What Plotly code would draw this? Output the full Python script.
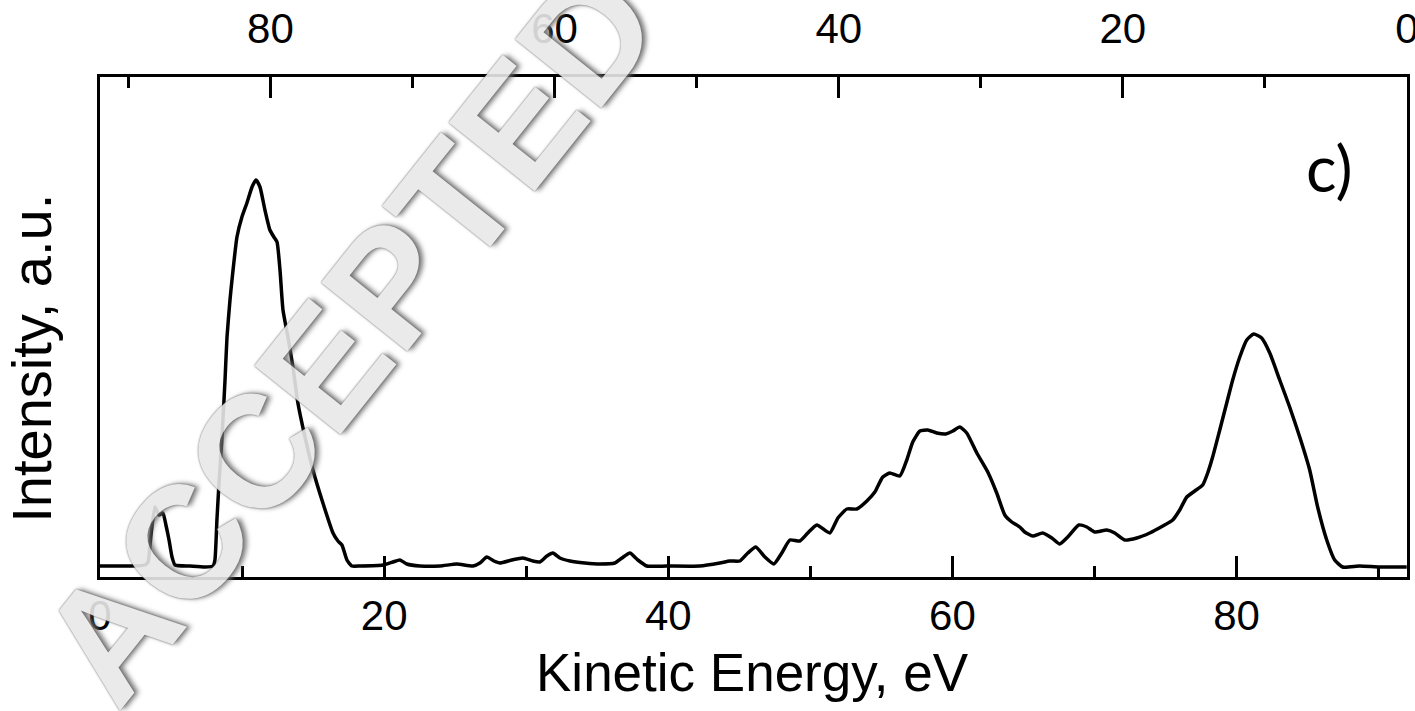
import plotly.graph_objects as go

# Kinetic energy (eV) and intensity (a.u.)
kinetic_energy = [
    0.00, 2.11, 3.17, 3.38, 3.59, 3.87, 4.15, 4.43, 4.64, 4.86, 5.07, 5.28, 6.33, 7.39, 7.95,
    8.09, 8.23, 8.37, 8.59, 8.80, 8.94, 9.15, 9.29, 9.64, 9.99, 10.34, 10.70, 10.98,
    11.26, 11.61, 11.96, 12.24, 12.46, 12.67, 12.88, 13.23, 13.58, 13.93, 14.43, 14.99,
    15.69, 16.40, 16.75, 17.03, 17.38, 17.73,
    18.30, 19.92, 20.62, 21.11, 21.60, 22.52, 23.93, 25.12, 26.25, 26.74, 27.23, 27.73,
    28.15, 28.99, 29.77, 30.47, 30.96, 31.46, 31.88, 32.37, 33.08, 34.13, 35.19, 36.24,
    36.74, 37.30, 37.86, 38.49, 39.90, 42.22, 43.63, 44.33, 45.04, 45.60, 46.16, 46.80,
    47.43, 47.99, 48.56, 49.26, 49.82, 50.46, 51.37, 51.94, 52.57, 53.27, 53.98, 54.54,
    55.10, 55.59, 56.30, 56.79, 57.21, 57.71, 58.27, 58.90, 59.54, 60.03, 60.52, 61.01,
    61.72, 62.49, 63.12, 63.69, 64.18, 64.74, 65.09, 65.66, 66.36, 67.00, 67.56, 68.12,
    68.90, 69.46, 70.02, 70.87, 71.43, 72.13, 72.98, 73.89, 74.81, 75.51, 76.00, 76.50,
    77.06, 77.62, 77.97, 78.32, 78.82, 79.31, 79.73, 80.23, 80.72, 81.21, 81.77, 82.34,
    83.04, 83.74, 84.45, 85.15, 85.71, 86.35, 86.91, 87.47, 88.67, 90.08, 91.98,
]
intensity = [
    0.01, 0.01, 0.02, 0.05, 0.32, 0.60, 0.52, 0.54, 0.42, 0.27, 0.10, 0.02, 0.01, 0.00, 0.01,
    0.07, 0.47, 0.82, 1.30, 1.87, 2.30, 2.67, 2.87, 3.30, 3.50, 3.64, 3.80, 3.87,
    3.80, 3.57, 3.37, 3.30, 3.25, 2.97, 2.57, 2.30, 2.00, 1.64, 1.30, 0.97,
    0.64, 0.34, 0.26, 0.22, 0.07, 0.01,
    0.01, 0.02, 0.05, 0.07, 0.03, 0.01, 0.01, 0.03, 0.01, 0.04, 0.10, 0.06,
    0.04, 0.07, 0.09, 0.06, 0.05, 0.11, 0.14, 0.09, 0.06, 0.04, 0.03, 0.04,
    0.09, 0.14, 0.07, 0.01, 0.01, 0.01, 0.04, 0.06, 0.06, 0.14, 0.20, 0.10,
    0.03, 0.14, 0.27, 0.26, 0.34, 0.42, 0.34, 0.49, 0.58, 0.58, 0.66, 0.75,
    0.90, 0.94, 0.91, 1.07, 1.25, 1.36, 1.37, 1.34, 1.33, 1.36, 1.40, 1.34,
    1.14, 0.95, 0.74, 0.52, 0.45, 0.40, 0.35, 0.31, 0.34, 0.29, 0.23, 0.30,
    0.42, 0.40, 0.35, 0.37, 0.34, 0.27, 0.29, 0.34, 0.41, 0.47, 0.57, 0.70,
    0.76, 0.82, 0.94, 1.10, 1.37, 1.64, 1.87, 2.10, 2.27, 2.33, 2.29, 2.14,
    1.87, 1.60, 1.30, 0.97, 0.60, 0.27, 0.07, 0.00, 0.01, 0.00, 0.00,
]

photon_energy = 92.0  # top axis: binding energy = photon_energy - kinetic energy
binding_energy = [photon_energy - k for k in kinetic_energy]

bottom_ticks = [0, 20, 40, 60, 80]
top_ticks = [80, 60, 40, 20, 0]

font_main = "Liberation Sans, Arial, sans-serif"

fig = go.Figure()
fig.add_trace(go.Scatter(
    x=kinetic_energy, y=intensity, mode="lines",
    line=dict(color="black", width=3.5, shape="spline", smoothing=0.5),
    showlegend=False, hoverinfo="skip",
))
# invisible companion trace on the binding-energy axis so that axis is drawn
fig.add_trace(go.Scatter(
    x=binding_energy, y=intensity, mode="lines", xaxis="x2",
    line=dict(color="rgba(0,0,0,0)", width=0),
    showlegend=False, hoverinfo="skip",
))

axis_common = dict(
    showgrid=False, zeroline=False, showline=True, linecolor="black", linewidth=2.5,
    ticks="inside", ticklen=21, tickwidth=2.5, tickcolor="black", automargin=False,
    tickfont=dict(family=font_main, size=42, color="black"),
    minor=dict(ticks="inside", ticklen=11, tickwidth=2.5, tickcolor="black", dtick=10, showgrid=False),
)

fig.update_layout(
    width=1415, height=711,
    margin=dict(l=100, r=8, t=77, b=134, autoexpand=False),
    paper_bgcolor="white", plot_bgcolor="white",
    xaxis=dict(
        range=[0, photon_energy], tickvals=bottom_ticks, ticktext=[str(v) for v in bottom_ticks],
        **axis_common,
    ),
    xaxis2=dict(
        range=[photon_energy, 0], overlaying="x", side="top", anchor="y",
        tickvals=top_ticks, ticktext=[str(v) for v in top_ticks],
        ticklabelstandoff=14, ticklabeloverflow="allow",
        **axis_common,
    ),
    yaxis=dict(
        range=[-0.10, 4.90], showgrid=False, zeroline=False, showline=True, automargin=False,
        linecolor="black", linewidth=2.5, mirror=True, ticks="", showticklabels=False,
    ),
    annotations=[
        dict(text="Kinetic Energy, eV", xref="paper", yref="paper", x=0.499, y=-0.19,
             xanchor="center", yanchor="middle", showarrow=False,
             font=dict(family=font_main, size=53, color="black")),
        dict(text="Intensity, a.u.", xref="paper", yref="paper", x=-0.053, y=0.438,
             xanchor="center", yanchor="middle", textangle=-90, showarrow=False,
             font=dict(family=font_main, size=56, color="black")),
        dict(text="c)", xref="paper", yref="paper", x=0.941, y=0.82, xanchor="center", yanchor="middle",
             showarrow=False, font=dict(family="Lato, Open Sans, sans-serif", size=64, color="black")),
        dict(text="<b>ACCEPTED MANUSCRIPT</b>", xref="paper", yref="paper", x=0.456, y=1.352,
             xanchor="center", yanchor="middle", textangle=-51.4, showarrow=False, opacity=0.9,
             font=dict(family="Liberation Sans, Arial, sans-serif", size=160, color="#e8e8e8",
                       shadow="0 0 2px #4d4d4d, 3px 3px 5px #707070")),
    ],
)

fig.write_html("out.html")
